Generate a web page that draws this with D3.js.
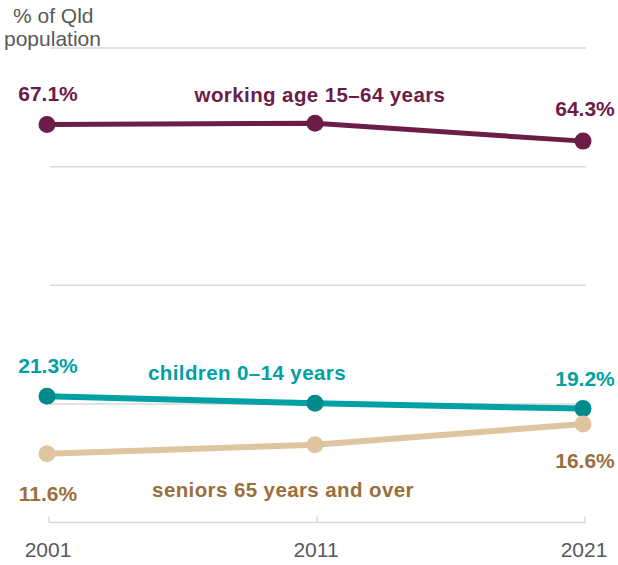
<!DOCTYPE html>
<html>
<head>
<meta charset="utf-8">
<script src="https://cdn.jsdelivr.net/npm/d3@7"></script>
<style>
  html, body { margin: 0; padding: 0; background: #fff; }
  svg { display: block; font-family: "Liberation Sans", Arial, sans-serif; }
</style>
</head>
<body>
<svg id="chart" width="618" height="565"></svg>
<script>
// Queensland population share by broad age group, census years
const years = ["2001", "2011", "2021"];
const workingAge = [67.1, 67.3, 64.3];
const children = [21.3, 20.1, 19.2];
const seniors = [11.6, 13.1, 16.6];
const yTicks = [0, 20, 40, 60, 80];

const series = [
  { name: "working age 15\u201364 years", values: workingAge, line: "#6b1d48", dot: "#6b1d48", text: "#6b1d48", width: 5,
    nameX: 320, nameY: 102, startDy: -24, endDy: -25 },
  { name: "children 0\u201314 years", values: children, line: "#00a0a3", dot: "#008a8c", text: "#00a0a3", width: 6,
    nameX: 247, nameY: 380, startDy: -23, endDy: -23 },
  { name: "seniors 65 years and over", values: seniors, line: "#dfc4a0", dot: "#dfc4a0", text: "#9a6f3c", width: 6,
    nameX: 283, nameY: 497, startDy: 47, endDy: 44 }
];

const svg = d3.select("#chart");

const x = d3.scalePoint().domain(years).range([47, 583]);
const y = d3.scaleLinear().domain([0, 80]).range([522.5, 48]);

// horizontal gridlines
svg.append("g")
  .selectAll("line")
  .data(yTicks.filter(d => d > 0))
  .join("line")
  .attr("x1", 50).attr("x2", 586)
  .attr("y1", d => y(d)).attr("y2", d => y(d))
  .attr("stroke", "#d9d9d9")
  .attr("stroke-width", 1.5);

// bottom axis with short upward ticks
const axis = svg.append("g");
axis.append("line")
  .attr("x1", 49).attr("x2", 586)
  .attr("y1", y(0)).attr("y2", y(0))
  .attr("stroke", "#d9d9d9").attr("stroke-width", 1.5);
axis.selectAll("line.tick")
  .data(years)
  .join("line")
  .attr("class", "tick")
  .attr("x1", d => x(d) + 2).attr("x2", d => x(d) + 2)
  .attr("y1", y(0)).attr("y2", y(0) - 6)
  .attr("stroke", "#d9d9d9").attr("stroke-width", 1.5);
axis.selectAll("text")
  .data(years)
  .join("text")
  .attr("x", d => x(d) + 1)
  .attr("y", 557)
  .attr("text-anchor", "middle")
  .attr("font-size", 21)
  .attr("fill", "#595959")
  .text(d => d);

// axis title
const title = svg.append("text")
  .attr("font-size", 21)
  .attr("fill", "#595959");
title.append("tspan").attr("x", 13).attr("y", 23).text("% of Qld");
title.append("tspan").attr("x", 4).attr("y", 46).text("population");

const line = d3.line()
  .x((d, i) => x(years[i]))
  .y(d => y(d));

series.forEach(s => {
  const g = svg.append("g");
  g.append("path")
    .datum(s.values)
    .attr("d", line)
    .attr("fill", "none")
    .attr("stroke", s.line)
    .attr("stroke-width", s.width);
  g.selectAll("circle")
    .data(s.values)
    .join("circle")
    .attr("cx", (d, i) => x(years[i]))
    .attr("cy", d => y(d))
    .attr("r", 8.5)
    .attr("fill", s.dot);

  // start and end value labels
  const first = s.values[0], last = s.values[s.values.length - 1];
  g.append("text")
    .attr("x", x(years[0]) + 1)
    .attr("y", y(first) + s.startDy)
    .attr("text-anchor", "middle")
    .attr("font-size", 21).attr("font-weight", "bold")
    .attr("fill", s.text)
    .text(first.toFixed(1) + "%");
  g.append("text")
    .attr("x", x(years[years.length - 1]) + 2)
    .attr("y", y(last) + s.endDy)
    .attr("text-anchor", "middle")
    .attr("font-size", 21).attr("font-weight", "bold")
    .attr("fill", s.text)
    .text(last.toFixed(1) + "%");

  // series name
  g.append("text")
    .attr("x", s.nameX)
    .attr("y", s.nameY)
    .attr("text-anchor", "middle")
    .attr("font-size", 20.5).attr("font-weight", "bold")
    .attr("letter-spacing", 0.4)
    .attr("fill", s.text)
    .text(s.name);
});
</script>
</body>
</html>
